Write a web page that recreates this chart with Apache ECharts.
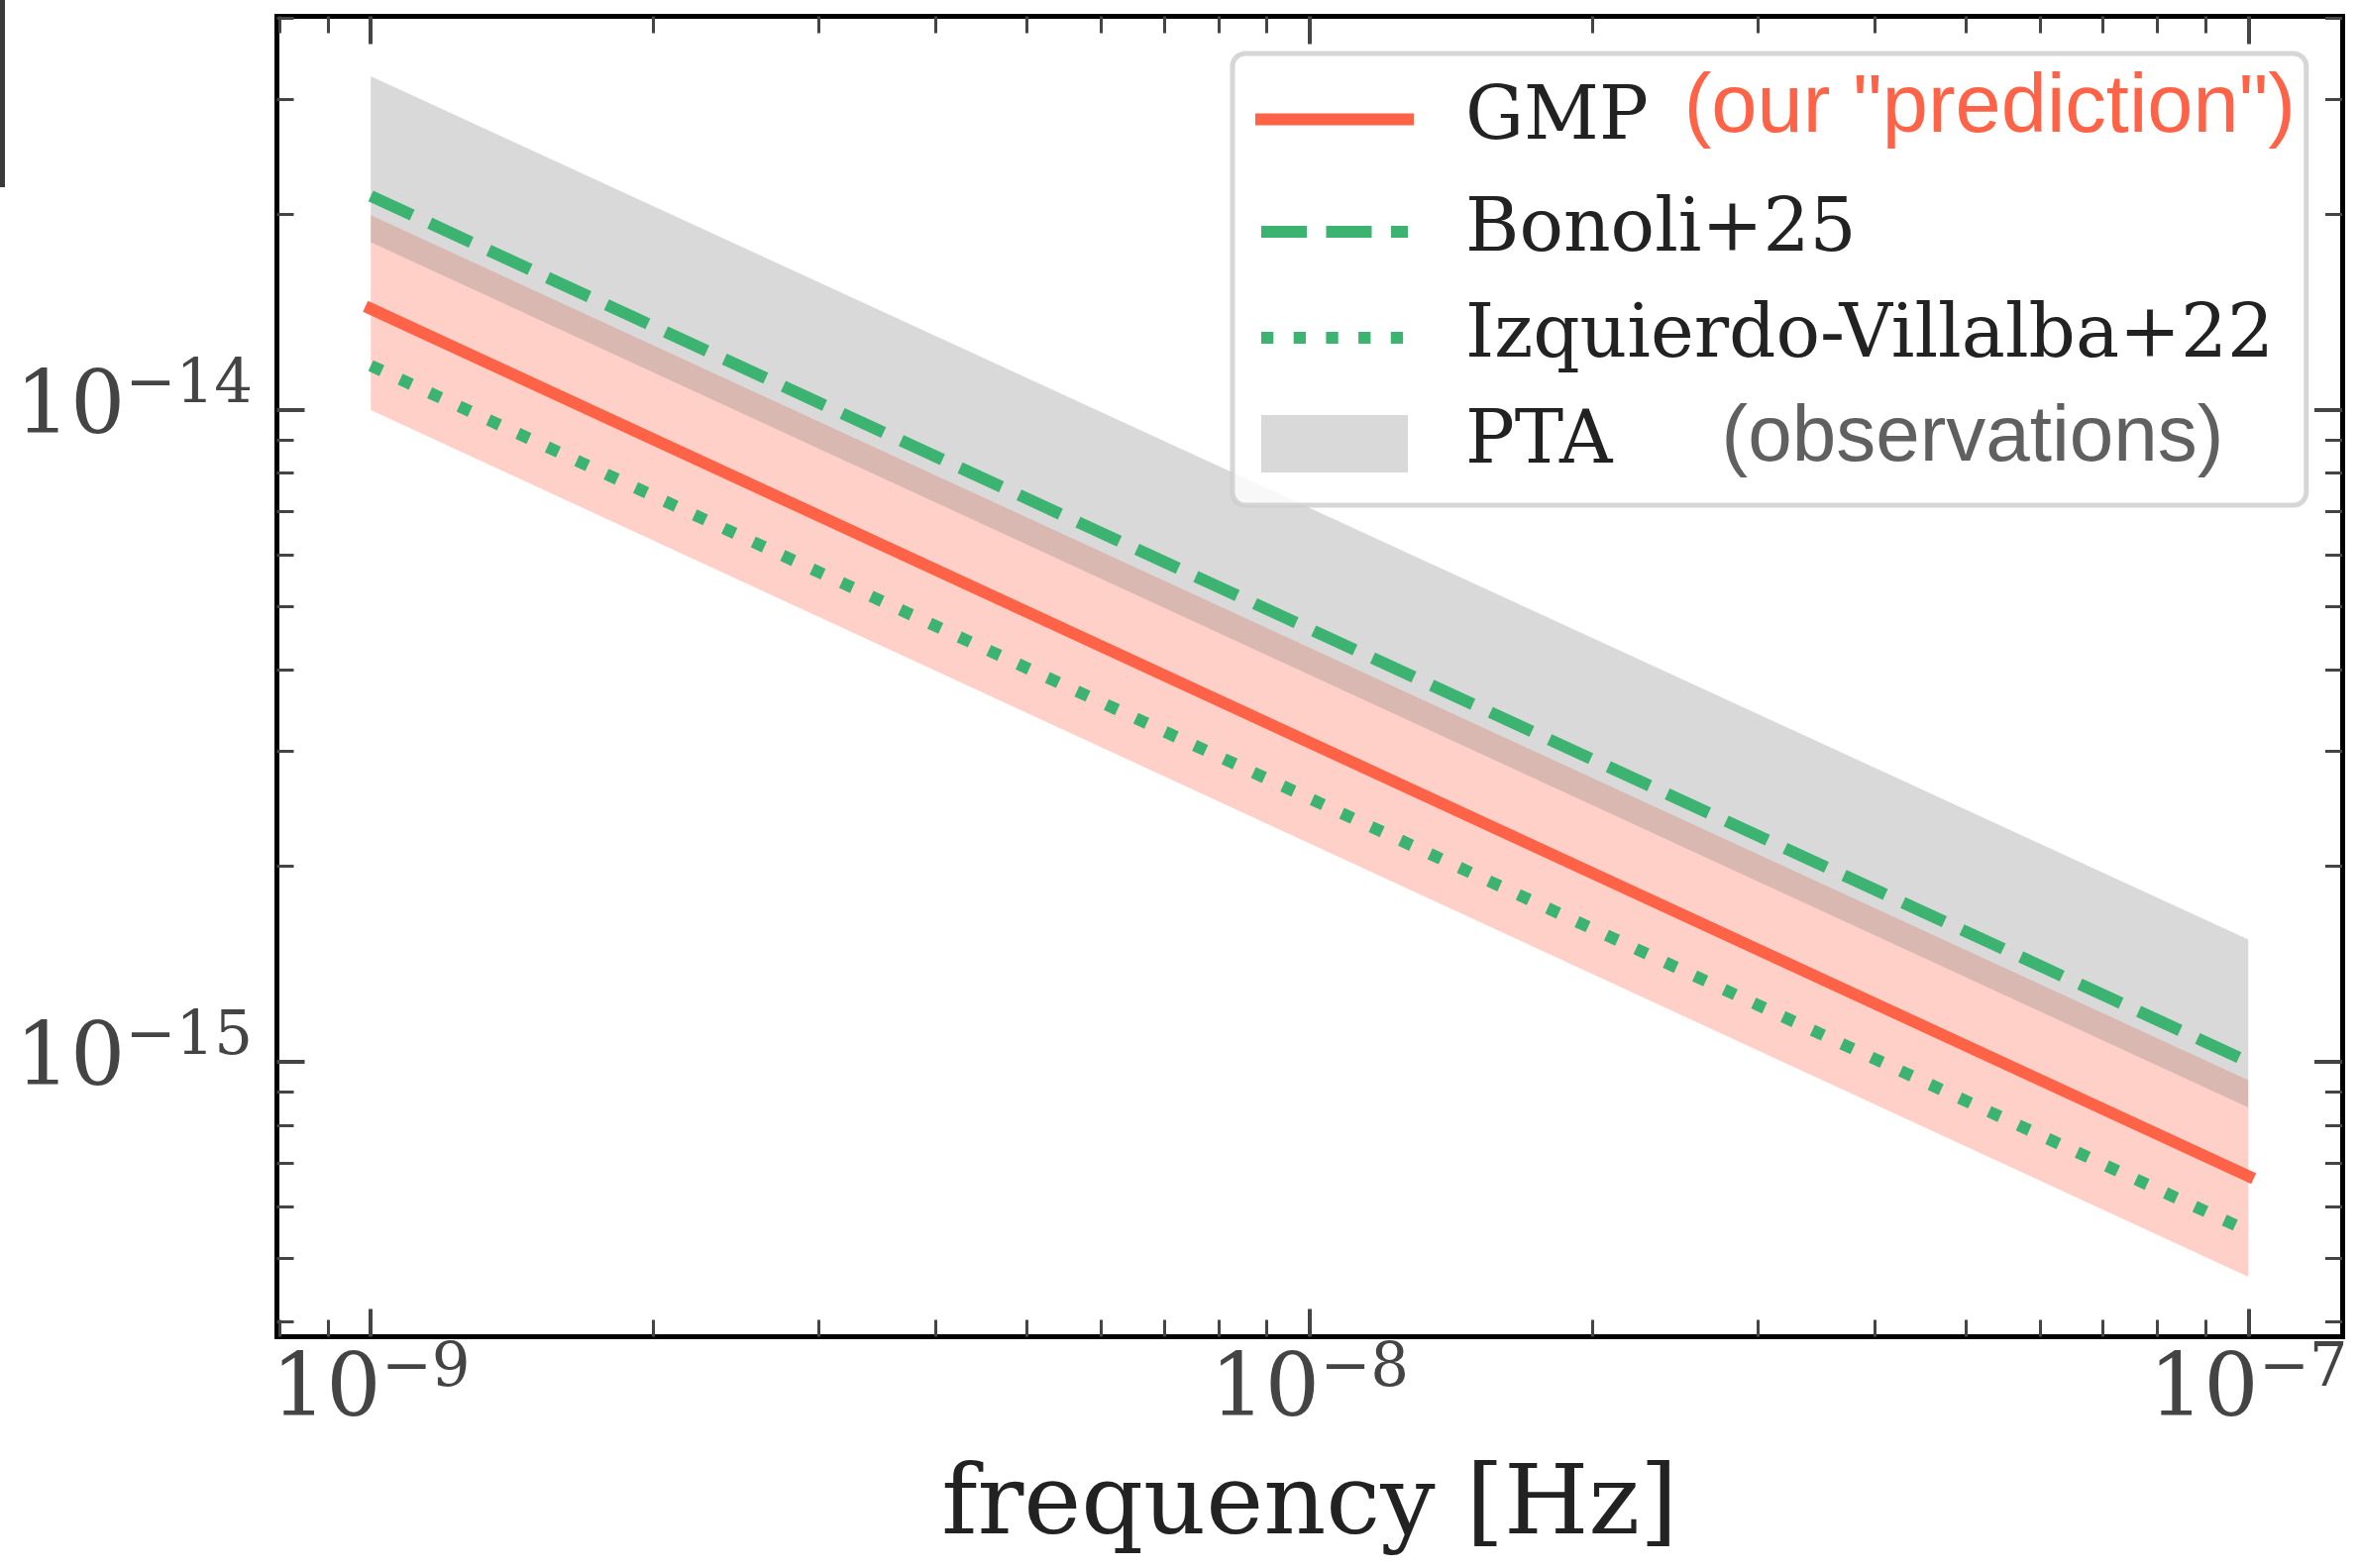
<!DOCTYPE html>
<html>
<head>
<meta charset="utf-8">
<title>Characteristic strain vs frequency</title>
<script src="https://cdn.jsdelivr.net/npm/echarts@6/dist/echarts.min.js"></script>
<style>
  html, body { margin: 0; padding: 0; background: #ffffff; }
  #chart { width: 2381px; height: 1583px; }
</style>
</head>
<body>
<div id="chart"></div>
<script>
// Frequencies [Hz] at which each curve is given (power laws, straight in log-log)
const freq = [1e-9, 1e-7];

// GMP prediction and its band
const gmp     = [1.43e-14, 6.68e-16];
const gmpLow  = [1.00e-14, 4.68e-16];
const gmpHigh = [1.99e-14, 9.37e-16];

// Literature models
const bonoli    = [2.13e-14, 1.00e-15];
const izquierdo = [1.17e-14, 5.50e-16];

// PTA observational band
const ptaLow  = [1.81e-14, 8.51e-16];
const ptaHigh = [3.25e-14, 1.54e-15];

// Axis ticks
const xMajor = [1e-9, 1e-8, 1e-7];
const xMinor = [8e-10, 9e-10,
  2e-9, 3e-9, 4e-9, 5e-9, 6e-9, 7e-9, 8e-9, 9e-9,
  2e-8, 3e-8, 4e-8, 5e-8, 6e-8, 7e-8, 8e-8, 9e-8];
const yMajor = [1e-15, 1e-14];
const yMinor = [4e-16, 5e-16, 6e-16, 7e-16, 8e-16, 9e-16,
  2e-15, 3e-15, 4e-15, 5e-15, 6e-15, 7e-15, 8e-15, 9e-15,
  2e-14, 3e-14, 4e-14];

// Axis ranges (log10 limits)
const xRange = [Math.pow(10, -9.1), Math.pow(10, -6.9)];
const yRange = [Math.pow(10, -15.4217), Math.pow(10, -13.396)];

const SERIF = 'DejaVu Serif';
const SANS = 'Liberation Sans';
const TICK_COLOR = '#444444';

function powLabel(v) {
  const e = Math.round(Math.log10(v));
  return '{b|10}{s|' + (e < 0 ? '\u2212' + (-e) : String(e)) + '}';
}
const powRich = {
  b: { fontFamily: SERIF, fontSize: 87, lineHeight: 108, color: TICK_COLOR },
  s: { fontFamily: SERIF, fontSize: 61, verticalAlign: 'top', color: TICK_COLOR }
};

// One axis layer: either the framed major-tick axis or a minor-tick overlay
function makeAxis(position, range, ticks, major, extra) {
  const ax = {
    type: 'log',
    logBase: 10,
    gridIndex: 0,
    position: position,
    min: range[0],
    max: range[1],
    axisLine: major
      ? { show: true, onZero: false, lineStyle: { color: '#000000', width: 5, cap: 'square' } }
      : { show: false },
    axisTick: {
      show: true,
      inside: true,
      customValues: ticks,
      length: major ? 28 : 17,
      lineStyle: { color: TICK_COLOR, width: major ? 4 : 3 }
    },
    axisLabel: { show: false },
    splitLine: { show: false },
    minorTick: { show: false },
    minorSplitLine: { show: false }
  };
  return Object.assign(ax, extra || {});
}

function bandRenderer(lo, hi, fill) {
  return function (params, api) {
    const i = params.dataIndex;
    if (i === 0) return null;
    const pts = [
      api.coord([freq[i - 1], hi[i - 1]]),
      api.coord([freq[i], hi[i]]),
      api.coord([freq[i], lo[i]]),
      api.coord([freq[i - 1], lo[i - 1]])
    ];
    return { type: 'polygon', shape: { points: pts }, style: { fill: fill } };
  };
}

const pinkFill = 'rgba(255,99,71,0.3)';
const grayFill = 'rgba(128,128,128,0.3)';

const chart = echarts.init(document.getElementById('chart'), null, { renderer: 'canvas' });

chart.setOption({
  animation: false,
  backgroundColor: '#ffffff',
  grid: {
    left: 279.5, top: 16.5, width: 2084.5, height: 1333,
    containLabel: false, outerBoundsMode: 'none'
  },
  xAxis: [
    makeAxis('bottom', xRange, xMajor, true, {
      axisLabel: {
        show: true, customValues: xMajor, margin: 3,
        formatter: powLabel, rich: powRich
      },
      name: 'frequency [Hz]',
      nameLocation: 'middle',
      nameGap: 124.5,
      nameTextStyle: { fontFamily: SERIF, fontSize: 98, color: '#222222' }
    }),
    makeAxis('bottom', xRange, xMinor, false),
    makeAxis('top', xRange, xMajor, true),
    makeAxis('top', xRange, xMinor, false)
  ],
  yAxis: [
    makeAxis('left', yRange, yMajor, true, {
      axisLabel: {
        show: true, customValues: yMajor, margin: 24.5,
        formatter: powLabel, rich: powRich
      }
    }),
    makeAxis('left', yRange, yMinor, false),
    makeAxis('right', yRange, yMajor, true),
    makeAxis('right', yRange, yMinor, false)
  ],
  legend: {
    orient: 'vertical',
    left: 1244,
    top: 54,
    padding: [15, 11, 17, 23],
    itemWidth: 148,
    itemHeight: 58,
    itemGap: 17,
    selectedMode: false,
    backgroundColor: 'rgba(255,255,255,0.8)',
    borderColor: 'rgba(204,204,204,0.8)',
    borderWidth: 5,
    borderRadius: 13,
    lineStyle: { width: 12 },
    data: [
      { name: 'GMP', itemStyle: { opacity: 0 } },
      { name: 'Bonoli+25', itemStyle: { opacity: 0 } },
      { name: 'Izquierdo-Villalba+22', itemStyle: { opacity: 0 } },
      { name: 'PTA', icon: 'rect' }
    ],
    formatter: function (name) {
      if (name === 'GMP') return '{n|GMP}{o|(our "prediction")}';
      if (name === 'PTA') return '{n|PTA}{g|(observations)}';
      return '{n|' + name + '}';
    },
    textStyle: {
      fontFamily: SERIF, fontSize: 74, color: '#222222', lineHeight: 90,
      rich: {
        n: { fontFamily: SERIF, fontSize: 74, color: '#222222', lineHeight: 90, padding: [0, 0, 0, 53] },
        o: { fontFamily: SANS, fontSize: 83, color: '#ff6347', lineHeight: 90, padding: [0, 0, 20, 36] },
        g: { fontFamily: SANS, fontSize: 80, color: '#606060', lineHeight: 90, padding: [0, 0, 10, 110] }
      }
    }
  },
  graphic: [
    { type: 'rect', left: 0, top: 0, shape: { x: 0, y: 0, width: 5, height: 189 }, style: { fill: '#3a3a3a' } }
  ],
  series: [
    {
      type: 'custom',
      name: 'GMP band',
      xAxisIndex: 0, yAxisIndex: 0,
      itemStyle: { color: pinkFill },
      data: freq.map((f, i) => [f, gmpLow[i], gmpHigh[i]]),
      encode: { x: 0, y: [1, 2] },
      renderItem: bandRenderer(gmpLow, gmpHigh, pinkFill),
      z: 1
    },
    {
      type: 'custom',
      name: 'PTA',
      xAxisIndex: 0, yAxisIndex: 0,
      itemStyle: { color: grayFill },
      data: freq.map((f, i) => [f, ptaLow[i], ptaHigh[i]]),
      encode: { x: 0, y: [1, 2] },
      renderItem: bandRenderer(ptaLow, ptaHigh, grayFill),
      z: 1
    },
    {
      type: 'line',
      name: 'GMP',
      xAxisIndex: 0, yAxisIndex: 0,
      data: freq.map((f, i) => [f, gmp[i]]),
      symbol: 'none',
      itemStyle: { color: '#ff6347' },
      lineStyle: { color: '#ff6347', width: 12, cap: 'square' },
      z: 3
    },
    {
      type: 'line',
      name: 'Bonoli+25',
      xAxisIndex: 0, yAxisIndex: 0,
      data: freq.map((f, i) => [f, bonoli[i]]),
      symbol: 'none',
      itemStyle: { color: '#3cb371' },
      lineStyle: { color: '#3cb371', width: 12, type: [46, 19.5], cap: 'butt' },
      z: 3
    },
    {
      type: 'line',
      name: 'Izquierdo-Villalba+22',
      xAxisIndex: 0, yAxisIndex: 0,
      data: freq.map((f, i) => [f, izquierdo[i]]),
      symbol: 'none',
      itemStyle: { color: '#3cb371' },
      lineStyle: { color: '#3cb371', width: 12, type: [12.3, 20.4], cap: 'butt' },
      z: 3
    }
  ]
});
</script>
</body>
</html>
